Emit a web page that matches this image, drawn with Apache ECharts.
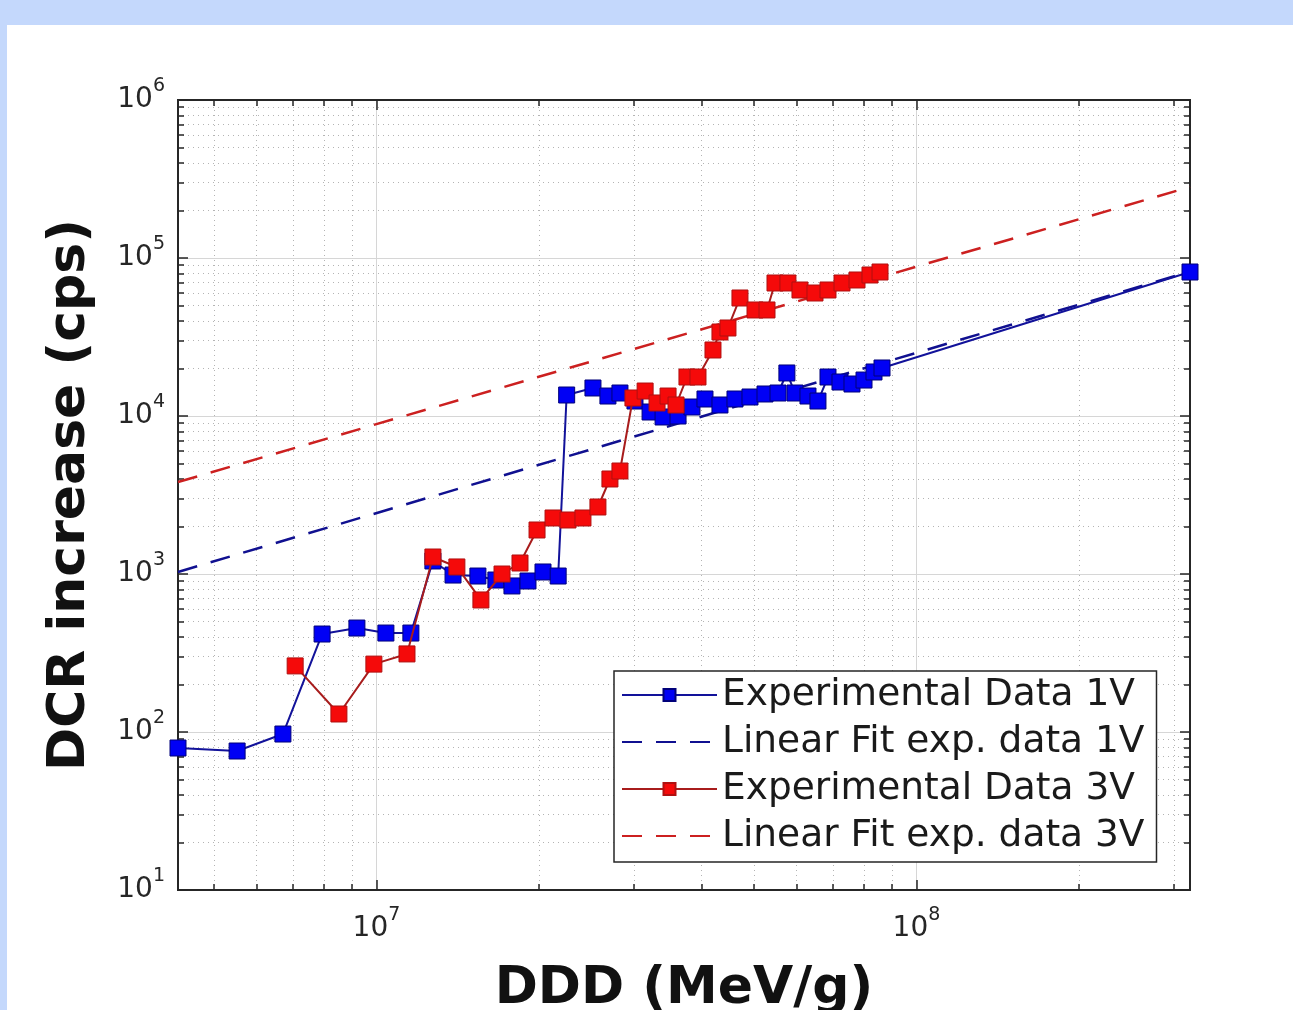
<!DOCTYPE html>
<html>
<head>
<meta charset="utf-8">
<script src="https://cdn.jsdelivr.net/npm/echarts@6/dist/echarts.min.js"></script>
<style>
  html, body { margin: 0; padding: 0; background: #c4d8fc; }
  #panel { position: absolute; left: 7px; top: 25px; width: 1286px; height: 985px; background: #fff; }
  #chart { position: absolute; left: 0; top: 0; width: 1293px; height: 1010px; }
</style>
</head>
<body>
<div id="panel"></div>
<div id="chart"></div>
<script>
// 1V 实验数据 (DDD, DCR)
var ddd1V = [4.29e6, 5.52e6, 6.71e6, 7.93e6, 9.20e6, 1.041e7, 1.158e7, 1.272e7, 1.386e7, 1.541e7,
  1.664e7, 1.782e7, 1.908e7, 2.034e7, 2.17e7, 2.25e7, 2.517e7, 2.683e7, 2.824e7, 3.011e7,
  3.211e7, 3.394e7, 3.618e7, 3.839e7, 4.058e7, 4.326e7, 4.612e7, 4.917e7, 5.242e7, 5.541e7,
  5.755e7, 5.957e7, 6.296e7, 6.570e7, 6.857e7, 7.217e7, 7.596e7, 7.995e7, 8.343e7, 8.633e7, 3.21e8]
var dcr1V = [79.2, 75.8, 97.1, 417, 455, 423, 423, 1209, 985, 971,
  916, 840, 903, 1030, 971, 13580, 15040, 13380, 13980, 12440,
  10600, 9856, 10000, 11400, 12810, 11740, 12810, 13190, 13780, 13980,
  18720, 13980, 13380, 12440, 17650, 16410, 15940, 16890, 18990, 20130, 81540]

// 3V 实验数据
var ddd3V = [7.07e6, 8.52e6, 9.89e6, 1.139e7, 1.272e7, 1.409e7, 1.561e7, 1.708e7, 1.844e7, 1.983e7,
  2.123e7, 2.263e7, 2.412e7, 2.571e7, 2.706e7, 2.824e7, 2.985e7, 3.144e7, 3.308e7, 3.467e7,
  3.587e7, 3.758e7, 3.939e7, 4.199e7, 4.326e7, 4.476e7, 4.711e7, 5.023e7, 5.287e7, 5.470e7,
  5.780e7, 6.085e7, 6.487e7, 6.857e7, 7.279e7, 7.760e7, 8.202e7, 8.560e7]
var dcr3V = [262, 130, 269, 312, 1281, 1108, 685, 1000, 1174, 1899,
  2262, 2197, 2262, 2655, 3993, 4486, 13000, 14390, 12090, 13380,
  11740, 17650, 17650, 26170, 34010, 36060, 55830, 46880, 46880, 69480,
  69480, 62730, 60040, 62730, 69480, 72580, 78070, 81540]

// 线性拟合 (端点)
var fitDDD = [4.29e6, 3.21e8]
var fit1V = [1030, 82000]
var fit3V = [3820, 282000]

// 坐标轴
var xRange = [4.29e6, 3.21e8]
var yRange = [10, 1e6]
var xMajor = [1e7, 1e8]
var xMinor = [5e6, 6e6, 7e6, 8e6, 9e6, 2e7, 3e7, 4e7, 5e7, 6e7, 7e7, 8e7, 9e7, 2e8, 3e8]
var yMajor = [1e1, 1e2, 1e3, 1e4, 1e5, 1e6]
var yMinor = [2e1, 3e1, 4e1, 5e1, 6e1, 7e1, 8e1, 9e1,
  2e2, 3e2, 4e2, 5e2, 6e2, 7e2, 8e2, 9e2,
  2e3, 3e3, 4e3, 5e3, 6e3, 7e3, 8e3, 9e3,
  2e4, 3e4, 4e4, 5e4, 6e4, 7e4, 8e4, 9e4,
  2e5, 3e5, 4e5, 5e5, 6e5, 7e5, 8e5, 9e5]

var FONT = 'DejaVu Sans'
var INK = '#262626'

function pairs(xs, ys) {
  return xs.map(function (x, i) { return [x, ys[i]] })
}

function powLabel(v) {
  return '{b|10}{s|' + Math.round(Math.log10(v)) + '}'
}

var labelRich = {
  b: { fontFamily: FONT, fontSize: 28, lineHeight: 46, color: INK },
  s: { fontFamily: FONT, fontSize: 19, verticalAlign: 'top', color: INK }
}

function logAxis(range, pos, ticks, tickLen, split) {
  return {
    type: 'log',
    position: pos,
    min: range[0],
    max: range[1],
    axisLine: { show: true, onZero: false, lineStyle: { color: INK, width: 2 } },
    axisTick: { show: true, inside: true, length: tickLen, customValues: ticks, lineStyle: { color: INK, width: 1.5 } },
    axisLabel: { show: false },
    splitLine: split ? { show: true, lineStyle: split } : { show: false },
    minorTick: { show: false },
    minorSplitLine: { show: false }
  }
}

var dotted = { color: '#b4b4b4', width: 1, type: [1, 4] }
var solid = { color: '#d6d6d6', width: 1, type: 'solid' }

var xBottomMinor = logAxis(xRange, 'bottom', xMinor, 6, dotted)
var xBottomMajor = logAxis(xRange, 'bottom', xMajor, 10, solid)
xBottomMajor.axisLabel = { show: true, customValues: xMajor, formatter: powLabel, rich: labelRich, margin: 16 }
xBottomMajor.name = 'DDD (MeV/g)'
xBottomMajor.nameLocation = 'middle'
xBottomMajor.nameGap = 73
xBottomMajor.nameTextStyle = { fontFamily: FONT, fontSize: 52, fontWeight: 'bold', color: '#111' }
var xTopMinor = logAxis(xRange, 'top', xMinor, 6, null)
var xTopMajor = logAxis(xRange, 'top', xMajor, 10, null)

var yLeftMinor = logAxis(yRange, 'left', yMinor, 6, dotted)
var yLeftMajor = logAxis(yRange, 'left', yMajor, 10, solid)
yLeftMajor.axisLabel = { show: true, customValues: yMajor, formatter: powLabel, rich: labelRich, margin: 13 }
yLeftMajor.name = 'DCR increase (cps)'
yLeftMajor.nameLocation = 'middle'
yLeftMajor.nameRotate = 90
yLeftMajor.nameGap = 82
yLeftMajor.nameTextStyle = { fontFamily: FONT, fontSize: 52, fontWeight: 'bold', color: '#111' }
var yRightMinor = logAxis(yRange, 'right', yMinor, 6, null)
var yRightMajor = logAxis(yRange, 'right', yMajor, 10, null)

var chart = echarts.init(document.getElementById('chart'))

var option = {
  animation: false,
  grid: { left: 178, right: 103, top: 100, bottom: 120, containLabel: false, outerBoundsMode: 'none' },
  legend: {
    orient: 'vertical',
    left: 614,
    top: 671,
    itemWidth: 95,
    itemHeight: 15,
    itemGap: 7,
    padding: [4, 12, 6, 7],
    backgroundColor: '#fff',
    borderColor: INK,
    borderWidth: 1.5,
    borderRadius: 0,
    textStyle: { fontFamily: FONT, fontSize: 37.5, lineHeight: 40, color: '#1a1a1a' },
    data: [
      { name: 'Experimental Data 1V' },
      { name: 'Linear Fit exp. data 1V', itemStyle: { opacity: 0 } },
      { name: 'Experimental Data 3V' },
      { name: 'Linear Fit exp. data 3V', itemStyle: { opacity: 0 } }
    ]
  },
  xAxis: [xBottomMinor, xBottomMajor, xTopMinor, xTopMajor],
  yAxis: [yLeftMinor, yLeftMajor, yRightMinor, yRightMajor],
  series: [
    {
      name: 'Experimental Data 1V',
      type: 'line',
      data: pairs(ddd1V, dcr1V),
      symbol: 'rect',
      symbolSize: 16,
      showSymbol: true,
      clip: false,
      lineStyle: { color: '#12129a', width: 2 },
      itemStyle: { color: '#0000f5', borderColor: '#00007a', borderWidth: 1 },
      z: 3
    },
    {
      name: 'Linear Fit exp. data 1V',
      type: 'line',
      data: pairs(fitDDD, fit1V),
      symbol: 'none',
      lineStyle: { color: '#101090', width: 2.5, type: [20, 14] },
      itemStyle: { color: '#101090' },
      z: 2
    },
    {
      name: 'Experimental Data 3V',
      type: 'line',
      data: pairs(ddd3V, dcr3V),
      symbol: 'rect',
      symbolSize: 16,
      showSymbol: true,
      clip: false,
      lineStyle: { color: '#a81c1c', width: 2 },
      itemStyle: { color: '#f50a0a', borderColor: '#b01010', borderWidth: 1 },
      z: 4
    },
    {
      name: 'Linear Fit exp. data 3V',
      type: 'line',
      data: pairs(fitDDD, fit3V),
      symbol: 'none',
      lineStyle: { color: '#cc2020', width: 2.5, type: [20, 14] },
      itemStyle: { color: '#cc2020' },
      z: 2
    }
  ]
}

chart.setOption(option)
window.addEventListener('resize', function () { chart.resize() })
</script>
</body>
</html>
